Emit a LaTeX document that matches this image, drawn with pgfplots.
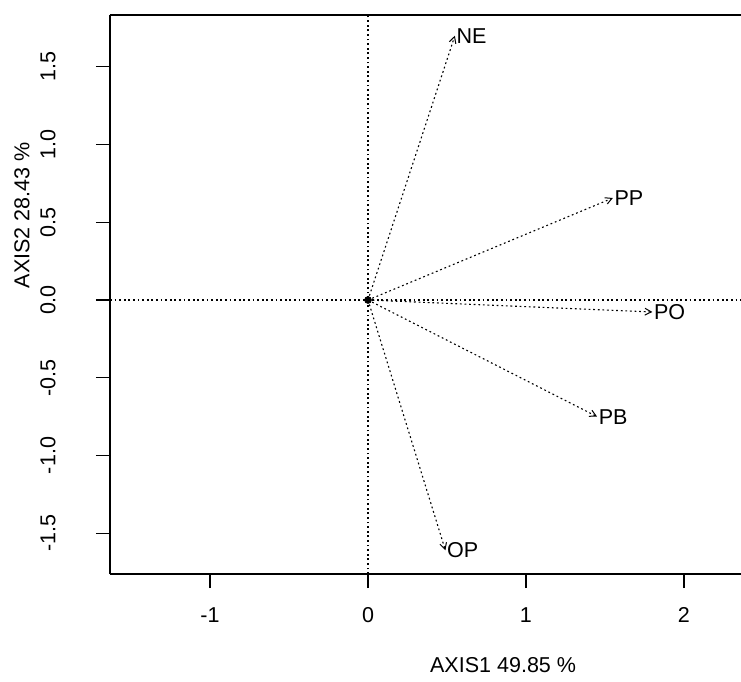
\documentclass[border=0pt]{standalone}
\usepackage{fontspec}
\setmainfont{Liberation Sans}
\usepackage{pgfplots}
\pgfplotsset{compat=1.18}
\usetikzlibrary{arrows.meta}
\begin{document}
\begin{tikzpicture}
\begin{axis}[
  scale only axis,
  width=315.5bp, height=279.5bp,
  xmin=-1.633, xmax=2.361,
  ymin=-1.762, ymax=1.833,
  axis x line*=box, axis y line*=left,
  xtick pos=lower, ytick pos=left,
  axis line style={line width=0.6bp, black},
  tick style={line width=0.6bp, black},
  tick align=outside,
  major tick length=7bp,
  xtick={-1,0,1,2},
  xticklabels={-1,0,1,2},
  ytick={-1.5,-1,-0.5,0,0.5,1,1.5},
  yticklabels={-1.5,-1.0,-0.5,0.0,0.5,1.0,1.5},
  tick label style={font=\fontsize{10.8}{12}\selectfont},
  xticklabel style={anchor=center},
  yticklabel style={rotate=90, anchor=center},
  yticklabel shift=24bp,
  xticklabel shift=13.5bp,
  label style={font=\fontsize{10.8}{12}\selectfont},
  xlabel={AXIS1 49.85 \%},
  ylabel={AXIS2 28.43 \%},
  xlabel style={at={(axis description cs:0.623,-0.163)}, anchor=center},
  ylabel style={at={(axis description cs:-0.1395,0.642)}, anchor=center, rotate=0},
  clip=true,
]
\addplot[black, line width=0.55bp, dash pattern=on 0.9bp off 1.4bp] coordinates {(-1.633,0) (2.361,0)};
\addplot[black, line width=0.55bp, dash pattern=on 0.9bp off 1.4bp] coordinates {(0,-1.762) (0,1.833)};
\tikzset{arr/.style={black, line width=0.55bp, dash pattern=on 0.9bp off 1.4bp, -{Straight Barb[length=3.2bp, width=3.4bp, line width=0.5bp]}},
         lab/.style={pos=1, anchor=west, inner sep=0.6bp, font=\fontsize{10.8}{12}\selectfont}}
\addplot[arr] coordinates {(0,0) (0.55,1.70)} node[lab] {NE};
\addplot[arr] coordinates {(0,0) (1.55,0.656)} node[lab] {PP};
\addplot[arr] coordinates {(0,0) (1.80,-0.077)} node[lab] {PO};
\addplot[arr] coordinates {(0,0) (1.45,-0.75)} node[lab] {PB};
\addplot[arr] coordinates {(0,0) (0.49,-1.61)} node[lab] {OP};
\addplot[only marks, mark=*, mark size=1.7bp, black] coordinates {(0,0)};
\end{axis}
\pgfresetboundingbox
\path[use as bounding box] ([xshift=-55bp,yshift=-54bp]current axis.south west) rectangle ([yshift=7.5bp]current axis.north east);
\end{tikzpicture}
\end{document}
